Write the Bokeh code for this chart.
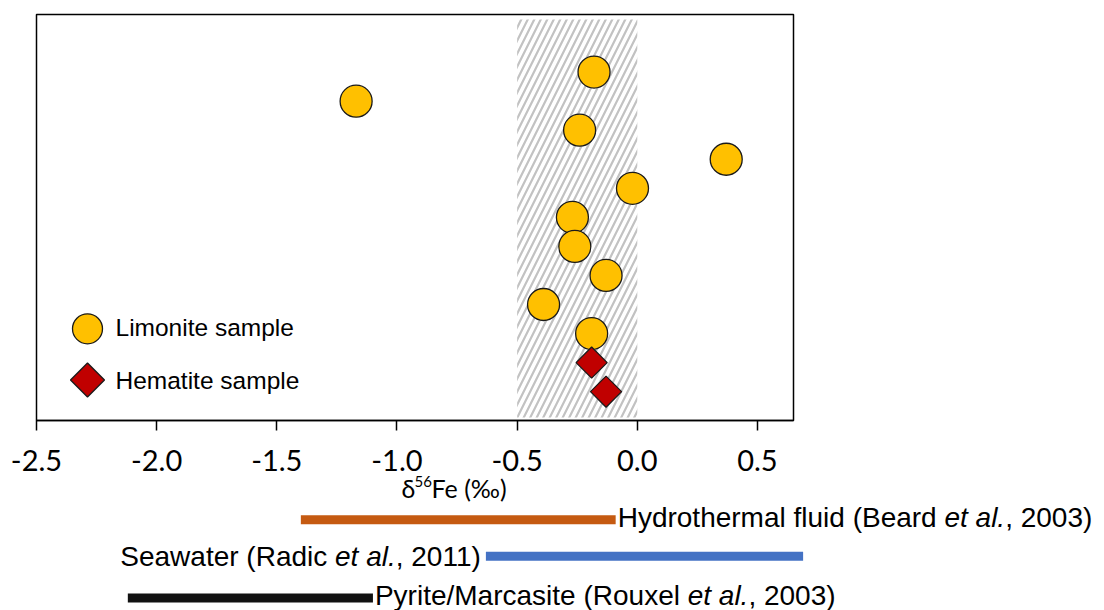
import math

from bokeh.core.properties import value
from bokeh.embed import file_html
from bokeh.models import FixedTicker, Range1d
from bokeh.plotting import figure
from bokeh.resources import INLINE

# ---------------------------------------------------------------- data
# δ56Fe (‰) of each sample, listed from the top row downwards
limonite_d56fe = [-0.18, -1.17, -0.24, 0.37, -0.02, -0.27, -0.26, -0.13, -0.39, -0.19]
hematite_d56fe = [-0.19, -0.13]

# range of typical values shaded behind the samples
band_min = -0.5
band_max = 0.0

# published δ56Fe ranges shown under the axis
ref_min = [-1.40, -0.63, -2.12]
ref_max = [-0.09, 0.69, -1.10]
ref_colors = ["#C55A11", "#4472C4", "#111111"]
# each label is split as (plain, italic, plain) so "et al." can be italic
ref_labels = [
    ("Hydrothermal fluid (Beard ", "et al.", ", 2003)"),
    ("Seawater (Radic ", "et al.", ", 2011)"),
    ("Pyrite/Marcasite (Rouxel ", "et al.", ", 2003)"),
]
ref_label_side = ["right", "left", "right"]

tick_values = [-2.5, -2.0, -1.5, -1.0, -0.5, 0.0, 0.5]
tick_labels = ["-2.5", "-2.0", "-1.5", "-1.0", "-0.5", "0.0", "0.5"]

legend_labels = ["Limonite sample", "Hematite sample"]

# axis title pieces: symbol, superscript mass number, rest
x_label_parts = ["δ", "56", "Fe (‰)"]

# ---------------------------------------------------------------- layout constants (page pixels)
YELLOW = "#FFC000"
RED = "#C00000"
TICK_FONT = "Lato"
TEXT_FONT = "Liberation Sans"

TOTAL_W, TOTAL_H = 1104, 610
X_START, X_END = -2.5, 0.65          # extent of the boxed plot area
BOX_LEFT, BOX_RIGHT = 36, 793         # where that extent sits on the page
BOX_TOP, BOX_BOTTOM = 14, 420
PX_PER_UNIT = (BOX_RIGHT - BOX_LEFT) / (X_END - X_START)

ROW1_PX, ROW_STEP = 71.6, 29.05       # vertical spacing of sample rows


def px_to_row(py):
    return 1 + (py - ROW1_PX) / ROW_STEP


def px_to_x(px):
    return X_START + (px - BOX_LEFT) / PX_PER_UNIT


# sample rows: row 1 at the top
limonite_rows = list(range(1, len(limonite_d56fe) + 1))
hematite_rows = list(range(len(limonite_d56fe) + 1,
                           len(limonite_d56fe) + len(hematite_d56fe) + 1))

# one figure whose frame covers the whole page; the δ56Fe axis sits at the box bottom
p = figure(
    width=TOTAL_W, height=TOTAL_H,
    min_border_left=0, min_border_right=0, min_border_top=0, min_border_bottom=0,
    x_range=Range1d(px_to_x(0), px_to_x(TOTAL_W)),
    y_range=Range1d(px_to_row(TOTAL_H), px_to_row(0)),
    y_axis_location=None,
    output_backend="svg", toolbar_location=None,
    background_fill_color="white", border_fill_color="white",
)
p.extra_y_ranges = {"page": Range1d(TOTAL_H, 0)}
p.outline_line_color = None
p.xgrid.visible = False
p.ygrid.visible = False

xa = p.xaxis[0]
xa.fixed_location = px_to_row(BOX_BOTTOM)
xa.bounds = (X_START, X_END)
xa.ticker = FixedTicker(ticks=tick_values)
xa.major_label_overrides = {v: s for v, s in zip(tick_values, tick_labels)}
xa.minor_tick_line_color = None
xa.major_tick_in = 0
xa.major_tick_out = 10
xa.major_tick_line_color = "black"
xa.major_tick_line_width = 1.5
xa.axis_line_color = "black"
xa.axis_line_width = 1.5
xa.major_label_text_font = TICK_FONT
xa.major_label_text_font_size = "29px"
xa.major_label_text_color = "black"
xa.major_label_standoff = 19

# hatched band
p.quad(left=[band_min], right=[band_max],
       top=[px_to_row(19)], bottom=[px_to_row(417)],
       fill_color="white", line_color=None,
       hatch_pattern="/", hatch_color="#C2C2C2", hatch_weight=2.2, hatch_scale=13)

# plot box
p.quad(left=[X_START], right=[X_END], top=[px_to_row(BOX_TOP)], bottom=[px_to_row(BOX_BOTTOM)],
       fill_color=None, line_color="black", line_width=1.5)

# samples
p.scatter(x=limonite_d56fe, y=limonite_rows, marker="circle", size=32,
          fill_color=YELLOW, line_color="#1a1a1a", line_width=1.3)
p.scatter(x=hematite_d56fe, y=hematite_rows, marker="square", size=22,
          angle=math.pi / 4, fill_color=RED, line_color="#1a1a1a", line_width=1.3)

# legend (swatches in the lower left corner of the box)
leg_x = px_to_x(87)
leg_text_x = px_to_x(115)
leg_rows = [px_to_row(328.3), px_to_row(379.5)]
p.scatter(x=[leg_x], y=[leg_rows[0]], marker="circle", size=30,
          fill_color=YELLOW, line_color="#1a1a1a", line_width=1.3)
p.scatter(x=[leg_x], y=[leg_rows[1]], marker="square", size=24,
          angle=math.pi / 4, fill_color=RED, line_color="#1a1a1a", line_width=1.3)
p.text(x=[leg_text_x, leg_text_x], y=[leg_rows[0] - 0.03, leg_rows[1] + 0.03],
       text=legend_labels,
       text_font=value(TEXT_FONT), text_font_size="24.5px",
       text_baseline="middle", text_align="left", text_color="black")

# x-axis title under the tick labels, with a raised "56"
title_x = px_to_x(401)
for s, off, yy, fs in zip(x_label_parts, [0, 13, 30], [487, 481, 487], ["25px", "15px", "25px"]):
    p.text(x=[title_x], y=[yy], y_range_name="page", text=[s], x_offset=off,
           text_font=value(TICK_FONT), text_font_size=fs,
           text_align="left", text_baseline="middle", text_color="black")

# ---------------------------------------------------------------- reference ranges
bar_y = [519.3, 555.7, 597.5]
label_y = [516.5, 555.5, 595.0]
p.segment(x0=ref_min, x1=ref_max, y0=bar_y, y1=bar_y, y_range_name="page",
          line_color=ref_colors, line_width=9, line_cap="butt")

# Liberation Sans advance widths (per 1000 em) for laying out the label pieces
_W = {" ": 278, "(": 333, ")": 333, ",": 278, ".": 278, "/": 278,
      "A": 667, "B": 667, "C": 722, "D": 722, "E": 667, "F": 611, "G": 778,
      "H": 722, "I": 278, "M": 833, "P": 667, "R": 722, "S": 667, "T": 611,
      "a": 556, "b": 556, "c": 500, "d": 556, "e": 556, "f": 278, "g": 556,
      "h": 556, "i": 222, "l": 222, "m": 833, "n": 556, "o": 556, "p": 556,
      "r": 333, "s": 500, "t": 278, "u": 556, "w": 722, "x": 500, "y": 500}
FS = 28.0


def text_w(s):
    return sum(_W.get(c, 556) for c in s) * FS / 1000.0


for lo, hi, yl, parts, side in zip(ref_min, ref_max, label_y, ref_labels, ref_label_side):
    widths = [text_w(s) for s in parts]
    if side == "right":
        x0 = hi
        start = 2
    else:
        x0 = lo
        start = -3 - sum(widths)
    offs = [start, start + widths[0], start + widths[0] + widths[1]]
    for s, off, style in zip(parts, offs, ["normal", "italic", "normal"]):
        p.text(x=[x0], y=[yl], y_range_name="page", text=[s], x_offset=off,
               text_font=value(TEXT_FONT), text_font_size=f"{FS}px",
               text_font_style=style, text_baseline="middle",
               text_align="left", text_color="black")

open("out.html", "w").write(file_html(p, INLINE))
